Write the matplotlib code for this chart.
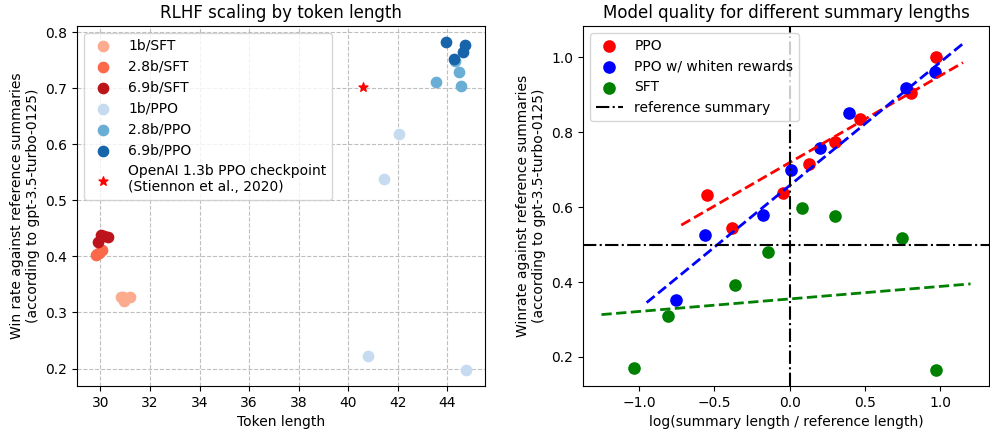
import matplotlib
matplotlib.use("Agg")
import matplotlib.pyplot as plt

# left panel: token length vs win rate
sft_1b_x = [30.81, 30.92, 30.94, 31.18]
sft_1b_y = [0.328, 0.327, 0.321, 0.328]
sft_2b_x = [29.80, 29.84, 30.07, 29.95]
sft_2b_y = [0.402, 0.405, 0.411, 0.407]
sft_6b_x = [29.89, 30.04, 30.29, 30.15]
sft_6b_y = [0.426, 0.439, 0.434, 0.436]
ppo_1b_x = [40.80, 41.47, 42.07, 44.78]
ppo_1b_y = [0.222, 0.539, 0.618, 0.198]
ppo_2b_x = [43.57, 44.48, 44.57, 44.31]
ppo_2b_y = [0.711, 0.729, 0.705, 0.749]
ppo_6b_x = [43.95, 44.28, 44.66, 44.73]
ppo_6b_y = [0.782, 0.753, 0.765, 0.777]
openai_x = [40.59]
openai_y = [0.702]

# right panel: log length ratio vs win rate
ppo_x = [-0.552, -0.382, -0.044, 0.125, 0.299, 0.466, 0.804, 0.971]
ppo_y = [0.632, 0.543, 0.639, 0.714, 0.775, 0.836, 0.904, 1.0]
whiten_x = [-0.752, -0.560, -0.180, 0.007, 0.200, 0.391, 0.771, 0.963]
whiten_y = [0.351, 0.525, 0.578, 0.699, 0.759, 0.851, 0.919, 0.961]
sft_x = [-1.033, -0.811, -0.365, -0.143, 0.079, 0.303, 0.747, 0.969]
sft_y = [0.170, 0.309, 0.391, 0.479, 0.598, 0.575, 0.518, 0.166]

# trend lines (end points)
ppo_fit_x = [-0.72, 1.15]
ppo_fit_y = [0.552, 0.986]
whiten_fit_x = [-0.95, 1.16]
whiten_fit_y = [0.345, 1.040]
sft_fit_x = [-1.25, 1.20]
sft_fit_y = [0.313, 0.395]

fig = plt.figure(figsize=(9.9, 4.33), dpi=100)
ax1 = fig.add_axes([77 / 990, 47 / 433, 408 / 990, 360 / 433])
ax2 = fig.add_axes([583 / 990, 47 / 433, 406 / 990, 360 / 433])

reds = plt.get_cmap("Reds")
blues = plt.get_cmap("Blues")
s = 55
ax1.scatter(sft_1b_x, sft_1b_y, s=s, color=reds(0.3), label="1b/SFT")
ax1.scatter(sft_2b_x, sft_2b_y, s=s, color=reds(0.5), label="2.8b/SFT")
ax1.scatter(sft_6b_x, sft_6b_y, s=s, color=reds(0.8), label="6.9b/SFT")
ax1.scatter(ppo_1b_x, ppo_1b_y, s=s, color=blues(0.25), label="1b/PPO")
ax1.scatter(ppo_2b_x, ppo_2b_y, s=s, color=blues(0.5), label="2.8b/PPO")
ax1.scatter(ppo_6b_x, ppo_6b_y, s=s, color=blues(0.8), label="6.9b/PPO")
ax1.scatter(openai_x, openai_y, s=45, marker="*", color="red",
            label="OpenAI 1.3b PPO checkpoint\n(Stiennon et al., 2020)")
ax1.grid(True, linestyle="--", color="#b0b0b0", alpha=0.8)
ax1.set_axisbelow(True)
ax1.set_title("RLHF scaling by token length", fontsize=12)
ax1.set_xlabel("Token length", fontsize=10)
ax1.set_ylabel("Win rate against reference summaries\n(according to gpt-3.5-turbo-0125)", fontsize=10)
ax1.tick_params(labelsize=10)
ax1.legend(loc="upper left", fontsize=10)

ms = 65
ax2.scatter(ppo_x, ppo_y, s=ms, color="red", label="PPO")
ax2.scatter(whiten_x, whiten_y, s=ms, color="blue", label="PPO w/ whiten rewards")
ax2.scatter(sft_x, sft_y, s=ms, color="green", label="SFT")
ax2.plot(ppo_fit_x, ppo_fit_y, "--", color="red", lw=2)
ax2.plot(whiten_fit_x, whiten_fit_y, "--", color="blue", lw=2)
ax2.plot(sft_fit_x, sft_fit_y, "--", color="green", lw=2)
ax2.axhline(0.5, color="black", linestyle="-.", lw=1.5, label="reference summary")
ax2.axvline(0.0, color="black", linestyle="-.", lw=1.5)
ax2.set_title("Model quality for different summary lengths", fontsize=12)
ax2.set_xlabel("log(summary length / reference length)", fontsize=10)
ax2.set_ylabel("Winrate against reference summaries\n(according to gpt-3.5-turbo-0125)", fontsize=10)
ax2.tick_params(labelsize=10)
ax2.legend(loc="upper left", fontsize=10)

fig.savefig("out.png", dpi=100)
